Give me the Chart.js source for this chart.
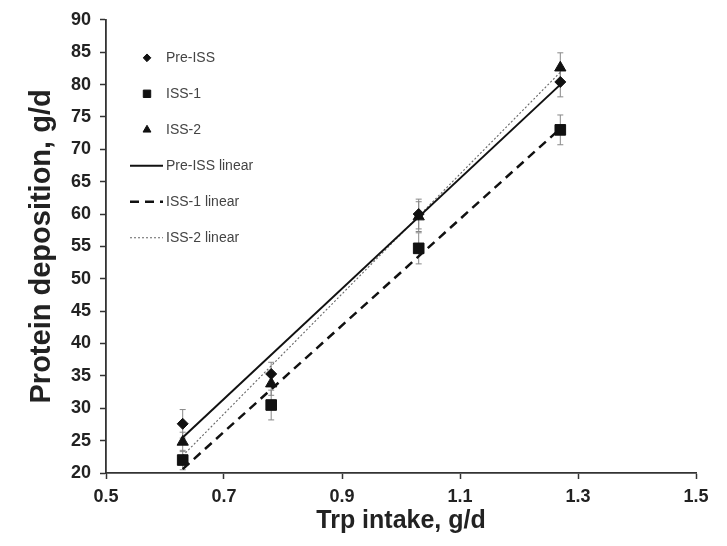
<!DOCTYPE html>
<html><head><meta charset="utf-8">
<script src="https://cdn.jsdelivr.net/npm/chart.js@4.4.1/dist/chart.umd.min.js"></script>
<style>html,body{margin:0;padding:0;background:#fff}#wrap{width:727px;height:546px;position:relative}</style>
</head><body><div id="wrap"><canvas id="c" width="727" height="546"></canvas></div>
<script>
const trpIntake = [0.63, 0.78, 1.03, 1.27];
const preISS = [27.6, 35.3, 60.0, 80.4];
const iss1 = [22.0, 30.5, 54.7, 73.0];
const iss2 = [24.8, 33.8, 59.6, 82.6];
const preISSErr = [2.2, 1.8, 2.3, 2.3];
const iss1Err = [1.5, 2.3, 2.4, 2.3];
const iss2Err = [1.5, 1.8, 2.3, 2.3];
const xTickValues = [0.5, 0.7, 0.9, 1.1, 1.3, 1.5];
const xTickLabels = ['0.5', '0.7', '0.9', '1.1', '1.3', '1.5'];
const yTickValues = [20, 25, 30, 35, 40, 45, 50, 55, 60, 65, 70, 75, 80, 85, 90];
const seriesNames = ['Pre-ISS', 'ISS-1', 'ISS-2'];

function fitLine(xs, ys) {
  const n = xs.length;
  const mx = xs.reduce((a, b) => a + b, 0) / n;
  const my = ys.reduce((a, b) => a + b, 0) / n;
  let sxy = 0, sxx = 0;
  for (let i = 0; i < n; i++) { sxy += (xs[i] - mx) * (ys[i] - my); sxx += (xs[i] - mx) ** 2; }
  const b = sxy / sxx, a = my - b * mx;
  const x0 = Math.min(...xs), x1 = Math.max(...xs);
  return [{x: x0, y: a + b * x0}, {x: x1, y: a + b * x1}];
}
const pts = ys => trpIntake.map((x, i) => ({x, y: ys[i]}));

const FONT = "'Liberation Sans', Arial, sans-serif";
const datasets = [
  {label: seriesNames[0], data: pts(preISS), err: preISSErr, pointStyle: 'rectRot', pointRadius: 5.5, backgroundColor: '#111', borderColor: '#111', showLine: false, legendKind: 'marker'},
  {label: seriesNames[1], data: pts(iss1), err: iss1Err, pointStyle: 'rect', pointRadius: 7.5, backgroundColor: '#111', borderColor: '#111', showLine: false, legendKind: 'marker'},
  {label: seriesNames[2], data: pts(iss2), err: iss2Err, pointStyle: 'triangle', pointRadius: 6.5, backgroundColor: '#111', borderColor: '#111', showLine: false, legendKind: 'marker'},
  {label: seriesNames[0] + ' linear', data: fitLine(trpIntake, preISS), showLine: true, pointRadius: 0, borderColor: '#111', borderWidth: 2, borderDash: [], legendKind: 'line'},
  {label: seriesNames[1] + ' linear', data: fitLine(trpIntake, iss1), showLine: true, pointRadius: 0, borderColor: '#111', borderWidth: 2.5, borderDash: [9, 6], legendKind: 'line'},
  {label: seriesNames[2] + ' linear', data: fitLine(trpIntake, iss2), showLine: true, pointRadius: 0, borderColor: '#666', borderWidth: 1.1, borderDash: [2, 2], legendKind: 'line'}
];
datasets.forEach(d => { d.order = d.legendKind === 'line' ? 2 : 1; });

const errorBars = {
  id: 'errorBars',
  beforeDatasetsDraw(chart) {
    const {ctx, scales: {x, y}} = chart;
    ctx.save();
    ctx.strokeStyle = '#888';
    ctx.lineWidth = 1;
    chart.data.datasets.forEach(ds => {
      if (!ds.err) return;
      ds.data.forEach((p, i) => {
        const px = x.getPixelForValue(p.x);
        const top = y.getPixelForValue(p.y + ds.err[i]);
        const bot = y.getPixelForValue(p.y - ds.err[i]);
        ctx.beginPath();
        ctx.moveTo(px, top); ctx.lineTo(px, bot);
        ctx.moveTo(px - 3, top); ctx.lineTo(px + 3, top);
        ctx.moveTo(px - 3, bot); ctx.lineTo(px + 3, bot);
        ctx.stroke();
      });
    });
    ctx.restore();
  }
};

const innerLegend = {
  id: 'innerLegend',
  afterDraw(chart) {
    const {ctx, chartArea} = chart;
    ctx.save();
    ctx.font = '14px ' + FONT;
    ctx.textBaseline = 'middle';
    ctx.textAlign = 'left';
    chart.data.datasets.forEach((ds, i) => {
      const yy = chartArea.top + 38 + i * 36;
      const mx = chartArea.left + 41;
      if (ds.legendKind === 'marker') {
        ctx.fillStyle = '#111';
        ctx.strokeStyle = '#111';
        Chart.helpers.drawPoint(ctx, {pointStyle: ds.pointStyle, radius: ds.pointRadius * 0.7, borderWidth: 1}, mx, yy);
      } else {
        ctx.strokeStyle = ds.borderColor;
        ctx.lineWidth = ds.borderWidth;
        ctx.setLineDash(ds.borderDash);
        ctx.beginPath();
        ctx.moveTo(chartArea.left + 24, yy);
        ctx.lineTo(chartArea.left + 57, yy);
        ctx.stroke();
        ctx.setLineDash([]);
      }
      ctx.fillStyle = '#444';
      ctx.fillText(ds.label, chartArea.left + 60, yy);
    });
    ctx.restore();
  }
};

new Chart(document.getElementById('c'), {
  type: 'scatter',
  data: {datasets},
  options: {
    responsive: false,
    animation: false,
    events: [],
    layout: {padding: {top: 15, right: 31, bottom: 0, left: 0}},
    plugins: {legend: {display: false}, tooltip: {enabled: false}},
    scales: {
      x: {
        type: 'linear', min: 0.5, max: 1.5,
        afterBuildTicks: s => { s.ticks = xTickValues.map(v => ({value: v})); },
        afterFit: s => { s.height = 73; },
        ticks: {callback: (v) => xTickLabels[xTickValues.indexOf(+v.toFixed(1))] ?? '', color: '#222', font: {family: FONT, size: 18, weight: 'bold'}, padding: 7, maxRotation: 0},
        grid: {drawOnChartArea: false, drawTicks: true, tickLength: 6, color: '#333', tickWidth: 1.5},
        border: {display: true, color: '#333', width: 1.8},
        title: {display: true, text: 'Trp intake, g/d', color: '#222', font: {family: FONT, size: 25, weight: 'bold'}, padding: {top: 0, bottom: 10}}
      },
      y: {
        type: 'linear', min: 20, max: 90,
        afterBuildTicks: s => { s.ticks = yTickValues.map(v => ({value: v})); },
        afterFit: s => { s.width = 106; },
        ticks: {color: '#222', font: {family: FONT, size: 18, weight: 'bold'}, padding: 9},
        grid: {drawOnChartArea: false, drawTicks: true, tickLength: 6, color: '#333', tickWidth: 1.5},
        border: {display: true, color: '#333', width: 1.8},
        title: {display: true, text: 'Protein deposition, g/d', color: '#222', font: {family: FONT, size: 29, weight: 'bold'}, padding: {top: 25, bottom: 0}}
      }
    }
  },
  plugins: [errorBars, innerLegend]
});
</script>
</body></html>
